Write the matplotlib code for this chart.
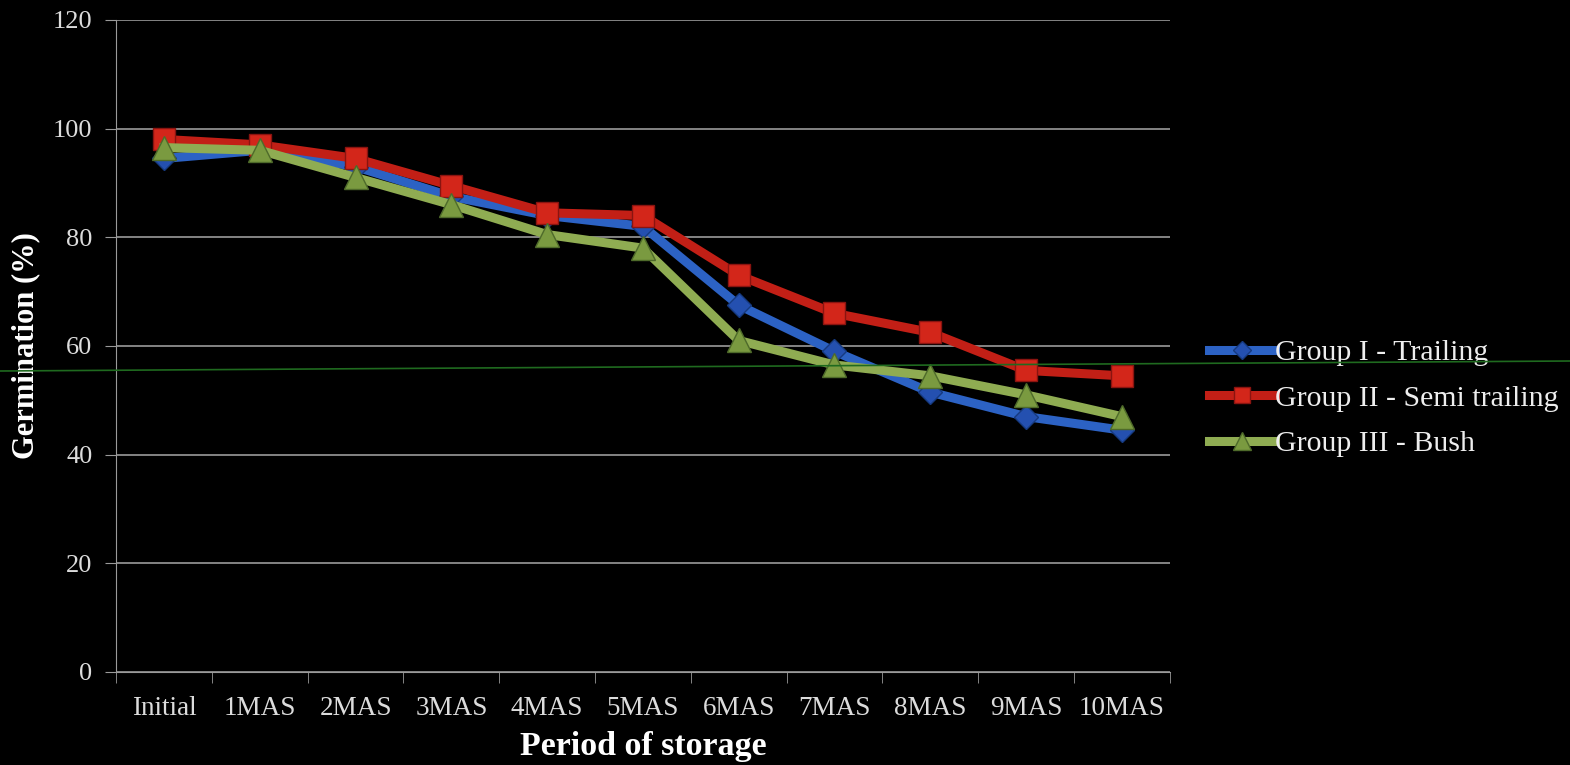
import matplotlib.pyplot as plt
from matplotlib.lines import Line2D
import numpy as np

periods = ['Initial', '1MAS', '2MAS', '3MAS', '4MAS', '5MAS', '6MAS', '7MAS', '8MAS', '9MAS', '10MAS']
trailing = [94.5, 96, 93, 87.5, 84, 82, 67.5, 59, 51.5, 47, 44.5]
semi_trailing = [98, 97, 94.5, 89.5, 84.5, 84, 73, 66, 62.5, 55.5, 54.5]
bush = [96.5, 96, 91, 86, 80.5, 78, 61, 56.5, 54.5, 51, 47]
names = ['Group I - Trailing', 'Group II - Semi trailing', 'Group III - Bush']

plt.rcParams['font.family'] = ['Liberation Serif', 'DejaVu Serif']

fig = plt.figure(figsize=(15.7, 7.65), dpi=100, facecolor='black')
ax = fig.add_axes([0.074, 0.1216, 0.671, 0.8524], facecolor='black')

x = np.arange(len(periods))
ax.plot(x, trailing, color='#2c62c4', lw=6.5, marker='D', ms=12, mfc='#2450b0', mec='#163a80', label=names[0], zorder=3)
ax.plot(x, semi_trailing, color='#c21f16', lw=6.5, marker='s', ms=16, mfc='#d3261a', mec='#8a1410', label=names[1], zorder=4)
ax.plot(x, bush, color='#8fac52', lw=6.5, marker='^', ms=17, mfc='#7a9a40', mec='#4e6a2a', label=names[2], zorder=5)

ax.set_ylim(0, 120)
ax.set_xlim(-0.5, len(periods) - 0.5)
ax.set_yticks(range(0, 121, 20))
ax.yaxis.grid(True, color='#9a9a9a', lw=1.2)
ax.set_axisbelow(True)
ax.set_xticks(x)
ax.set_xticklabels(periods)
ax.set_xticks(np.arange(-0.5, len(periods), 1), minor=True)
ax.tick_params(axis='x', which='major', length=0, labelsize=19.5, labelcolor='#dcdcdc', pad=17)
ax.tick_params(axis='x', which='minor', length=8, color='#9a9a9a', direction='out')
ax.tick_params(axis='y', length=8, color='#9a9a9a', labelsize=19, labelcolor='#dcdcdc', pad=9)

for side in ['top', 'right']:
    ax.spines[side].set_visible(False)
ax.spines['left'].set_color('#9a9a9a')
ax.spines['bottom'].set_color('#9a9a9a')

ax.set_xlabel('Period of storage', fontsize=24.5, fontweight='bold', color='white')
ax.xaxis.set_label_coords(0.5, -0.091)
ax.set_ylabel('Germination (%)', fontsize=22, fontweight='bold', color='white')
ax.yaxis.set_label_coords(-0.072, 0.5)

leg = ax.legend(loc='center left', bbox_to_anchor=(1.012, 0.42), frameon=False, fontsize=21.5,
                labelcolor='#eeeeee', handlelength=2.2, handletextpad=0.0, labelspacing=0.62,
                markerscale=0.75)

# thin green rule crossing the whole picture
fig.add_artist(Line2D([0, 1], [1 - 371 / 765, 1 - 361 / 765], transform=fig.transFigure,
                      color='#1f6a1f', lw=1.2, zorder=10))

fig.savefig('out.png', dpi=100, facecolor='black')
